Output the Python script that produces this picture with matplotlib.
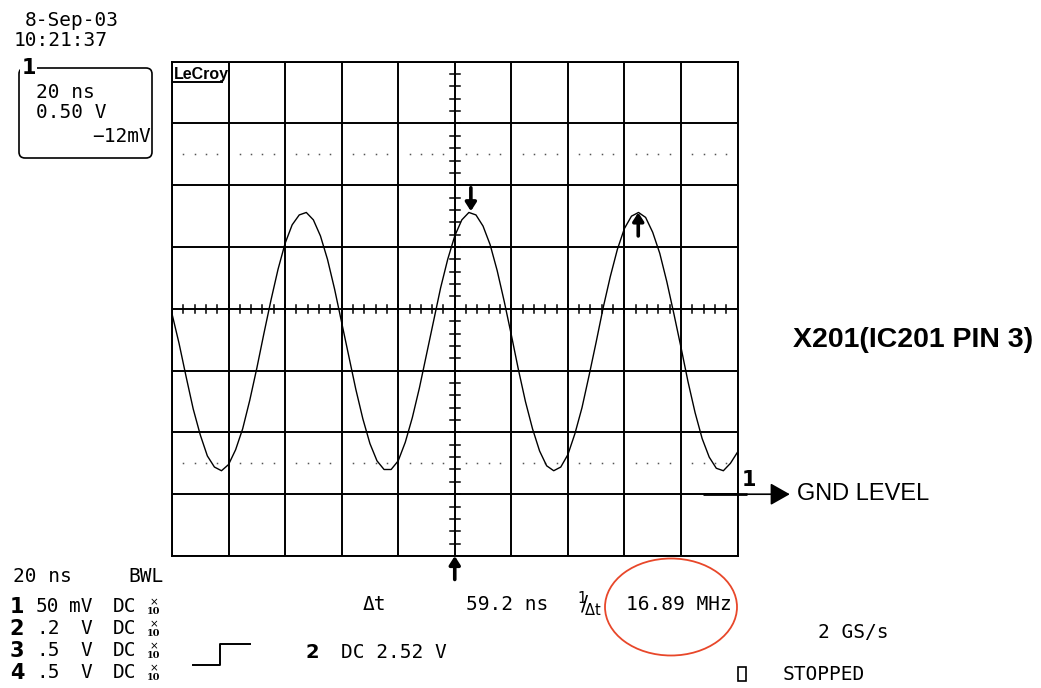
import matplotlib
matplotlib.use("Agg")
import matplotlib.pyplot as plt
from matplotlib.patches import FancyBboxPatch, Ellipse, Rectangle

time_ns = [-100.0, -97.5, -95.0, -92.5, -90.0, -87.5, -85.0, -82.5, -80.0, -77.5,
           -75.0, -72.5, -70.0, -67.5, -65.0, -62.5, -60.0, -57.5, -55.0, -52.5,
           -50.0, -47.5, -45.0, -42.5, -40.0, -37.5, -35.0, -32.5, -30.0, -27.5,
           -25.0, -22.5, -20.0, -17.5, -15.0, -12.5, -10.0, -7.5, -5.0, -2.5,
           0.0, 2.5, 5.0, 7.5, 10.0, 12.5, 15.0, 17.5, 20.0, 22.5,
           25.0, 27.5, 30.0, 32.5, 35.0, 37.5, 40.0, 42.5, 45.0, 47.5,
           50.0, 52.5, 55.0, 57.5, 60.0, 62.5, 65.0, 67.5, 70.0, 72.5,
           75.0, 77.5, 80.0, 82.5, 85.0, 87.5, 90.0, 92.5, 95.0, 97.5, 100.0]
volts = [1.46, 1.22, 0.95, 0.69, 0.48, 0.31, 0.22, 0.19, 0.24, 0.36,
         0.53, 0.76, 1.02, 1.30, 1.57, 1.82, 2.03, 2.18, 2.26, 2.28,
         2.22, 2.09, 1.90, 1.66, 1.39, 1.12, 0.85, 0.61, 0.41, 0.27,
         0.20, 0.20, 0.27, 0.42, 0.62, 0.86, 1.13, 1.40, 1.67, 1.90,
         2.09, 2.22, 2.28, 2.26, 2.17, 2.02, 1.81, 1.56, 1.29, 1.01,
         0.75, 0.53, 0.35, 0.23, 0.19, 0.22, 0.32, 0.49, 0.70, 0.96,
         1.23, 1.51, 1.76, 1.98, 2.15, 2.25, 2.28, 2.24, 2.12, 1.95,
         1.72, 1.46, 1.19, 0.91, 0.66, 0.45, 0.30, 0.21, 0.19, 0.25, 0.34]

cursor_times_ns = [5.7, 64.9]      # delta t = 59.2 ns
trigger_time_ns = 0.0
ground_level_v = 0.0
ns_per_div = 20
v_per_div = 0.5
screen_center_v = 1.5

title = "X201(IC201 PIN 3)"
gnd_label = "GND LEVEL"
date_str = "8-Sep-03"
time_str = "10:21:37"
box_lines = ["20 ns", "0.50 V"]
box_offset = "\u221212mV"
chan_ids = ["1", "2", "3", "4"]
chan_vals = ["50", ".2", ".5", ".5"]
chan_units = ["mV", "V", "V", "V"]
dt_text = "59.2 ns"
freq_text = "16.89 MHz"
trig_text = "DC 2.52 V"
rate_text = "2 GS/s"
state_text = "STOPPED"

MONO = "DejaVu Sans Mono"
W, H = 1041, 688

fig = plt.figure(figsize=(W / 100, H / 100), dpi=100)
fig.patch.set_facecolor("white")

# ---------------- main graticule ----------------
L, R, T, B = 172, 737.5, 61.7, 556
ax = fig.add_axes([L / W, 1 - B / H, (R - L) / W, (B - T) / H])
xmin, xmax = -5 * ns_per_div, 5 * ns_per_div
ymin, ymax = screen_center_v - 4 * v_per_div, screen_center_v + 4 * v_per_div
ax.set_xlim(xmin, xmax)
ax.set_ylim(ymin, ymax)
xt = [xmin + i * ns_per_div for i in range(11)]
yt = [ymin + i * v_per_div for i in range(9)]
ax.set_xticks(xt)
ax.set_yticks(yt)
ax.tick_params(length=0, labelbottom=False, labelleft=False)
ax.grid(True, color="black", lw=1.4)
for s in ax.spines.values():
    s.set_linewidth(1.4)
    s.set_color("black")

# center cross minor ticks
minor_x = [xmin + i * ns_per_div / 5 for i in range(51)]
minor_y = [ymin + i * v_per_div / 5 for i in range(41)]
for x in minor_x:
    ax.plot([x, x], [screen_center_v - 0.033, screen_center_v + 0.033], color="black", lw=1.1)
for y in minor_y:
    ax.plot([-1.8, 1.8], [y, y], color="black", lw=1.1)

# dotted reference levels
for lev in [screen_center_v + 2.5 * v_per_div, screen_center_v - 2.5 * v_per_div]:
    xs = [x for x in minor_x if abs((x - xmin) % ns_per_div) > 1e-6]
    ax.plot(xs, [lev] * len(xs), ls="none", marker="s", ms=1.1, color="#555555", mec="none")

# waveform
ax.plot(time_ns, volts, color="black", lw=1.0, zorder=4)

# cursors
ax.annotate("", xy=(cursor_times_ns[0], 2.29), xytext=(cursor_times_ns[0], 2.48),
            arrowprops=dict(arrowstyle="-|>,head_width=0.32,head_length=0.5", lw=2.6,
                            color="black", shrinkA=0, shrinkB=0), annotation_clip=False)
ax.annotate("", xy=(cursor_times_ns[1], 2.28), xytext=(cursor_times_ns[1], 2.09),
            arrowprops=dict(arrowstyle="-|>,head_width=0.32,head_length=0.5", lw=2.6,
                            color="black", shrinkA=0, shrinkB=0), annotation_clip=False)
# trigger position arrow
ax.annotate("", xy=(trigger_time_ns, ymin), xytext=(trigger_time_ns, ymin - 0.19),
            arrowprops=dict(arrowstyle="-|>,head_width=0.32,head_length=0.5", lw=2.6,
                            color="black", shrinkA=0, shrinkB=0), annotation_clip=False)

# ground marker
ax.plot([87.8, 103.4], [ground_level_v, ground_level_v], color="black", lw=2.0,
        clip_on=False, solid_capstyle="butt")
ax.text(101.6, ground_level_v + 0.115, "1", fontsize=15, fontweight="bold",
        ha="left", va="center", family="DejaVu Sans", clip_on=False)
ax.annotate("", xy=(118.5, ground_level_v), xytext=(103.4, ground_level_v),
            arrowprops=dict(arrowstyle="-|>,head_width=0.34,head_length=0.6", lw=1.2,
                            color="black", shrinkA=0, shrinkB=0, mutation_scale=20),
            annotation_clip=False)

# ---------------- overlay in pixel coordinates ----------------
ov = fig.add_axes([0, 0, 1, 1], zorder=5)
ov.set_xlim(0, W)
ov.set_ylim(H, 0)
ov.axis("off")

def mono(x, y, s, size=14, ha="left", **kw):
    ov.text(x, y, s, family=MONO, fontsize=size, ha=ha, va="center", **kw)

mono(25, 20, date_str)
mono(14, 41, time_str)

box = FancyBboxPatch((19, 68), 133, 90, boxstyle="round,pad=0,rounding_size=6",
                     fill=False, ec="black", lw=1.2)
ov.add_patch(box)
ov.text(28.5, 68, chan_ids[0], family="DejaVu Sans", fontweight="heavy", fontsize=15,
        ha="center", va="center",
        bbox=dict(boxstyle="square,pad=0.05", fc="white", ec="none"))
mono(36, 92, box_lines[0])
mono(36, 113, box_lines[1])
mono(151, 137, box_offset, ha="right")

# LeCroy logo
ov.text(174, 74, "LeCroy", family="Liberation Sans", fontweight="bold", fontsize=11.5,
        ha="left", va="center")
ov.plot([174, 222], [82, 82], color="black", lw=1.4)

# bottom-left channel table
mono(13, 576, "20 ns")
mono(128, 576, "BWL")
row_y = [607, 629, 651, 673]
for cid, val, unit, y in zip(chan_ids, chan_vals, chan_units, row_y):
    ov.text(17, y, cid, family="DejaVu Sans", fontweight="heavy", fontsize=15,
            ha="center", va="center")
    mono(36, y, val)
    mono(92, y, unit, ha="right")
    mono(113, y, "DC")
    ov.text(154, y - 5, "\u00d7", family="DejaVu Sans", fontsize=7.5, ha="center", va="center")
    ov.text(154, y + 5, "10", family="DejaVu Serif", fontsize=7, fontweight="bold",
            ha="center", va="center")

# trigger step symbol
ov.plot([193, 220, 220, 250], [665, 665, 644, 644], color="black", lw=1.4)
ov.text(312, 652, "2", family="DejaVu Sans", fontweight="heavy", fontsize=14,
        ha="center", va="center")
mono(341, 652, trig_text)

# measurements
mono(363, 605, "\u0394t")
mono(466, 605, dt_text)
ov.text(589, 604, r"$^{1}\!\!/\!_{\Delta\mathrm{t}}$", fontsize=15, ha="center", va="center")
mono(626, 605, freq_text)
ov.add_patch(Ellipse((671, 607), 132, 97, fill=False, ec="#E8472A", lw=1.3))

mono(818, 632, rate_text)
ov.add_patch(Rectangle((738, 667), 8, 14, fill=False, ec="black", lw=1.2))
mono(783, 675, state_text)

# annotation texts
ov.text(793, 340, title, family="Liberation Sans", fontweight="bold", fontsize=20.5,
        ha="left", va="center")
ov.text(797, 494, gnd_label, family="Liberation Sans", fontsize=17, ha="left", va="center")

fig.savefig("out.png", dpi=100, facecolor="white")
